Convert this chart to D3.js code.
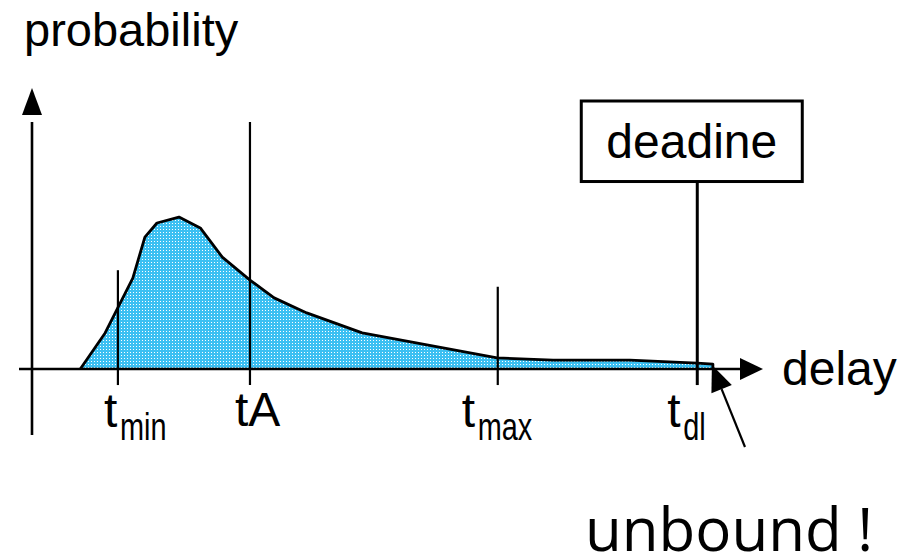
<!DOCTYPE html>
<html>
<head>
<meta charset="utf-8">
<script src="https://cdn.jsdelivr.net/npm/d3@7/dist/d3.min.js"></script>
<style>
  html, body { margin: 0; padding: 0; background: #fff; }
  svg { display: block; }
  text { font-family: "Liberation Sans", Arial, Helvetica, sans-serif; fill: #000; }
</style>
</head>
<body>
<svg id="chart" width="921" height="558"></svg>
<script>
// Delay distribution: sampled curve points (delay units, probability)
const curveDelay = [0.68, 1.03, 1.42, 1.59, 1.76, 2.07, 2.37, 2.68, 3.07, 3.41, 3.87, 4.65, 6.55, 7.34, 8.42, 9.37, 9.59];
const curveProb  = [0.000, 0.146, 0.368, 0.534, 0.591, 0.615, 0.571, 0.453, 0.360, 0.288, 0.227, 0.146, 0.045, 0.036, 0.036, 0.024, 0.020];

// Marked delays on the axis
const markerNames = ["min", "A", "max", "dl"];
const markerDelay = [1.21, 3.07, 6.56, 9.37];
const markerTop   = [0.40, 1.00, 0.333, 0.759];

const axisLabels = { y: "probability", x: "delay" };
const deadlineLabel = "deadine";
const noteLabel = "unbound !";

const svg = d3.select("#chart");

const x = d3.scaleLinear().domain([0, 10]).range([32, 742]);
const y = d3.scaleLinear().domain([0, 1]).range([369, 122]);

// Dotted light-blue fill
const defs = svg.append("defs");
const pat = defs.append("pattern")
  .attr("id", "dots").attr("patternUnits", "userSpaceOnUse")
  .attr("width", 3).attr("height", 3);
pat.append("rect").attr("width", 3).attr("height", 3).attr("fill", "#3cc0f2");
pat.append("rect").attr("x", 1).attr("y", 1).attr("width", 1).attr("height", 1).attr("fill", "#ffffff");

const pts = curveDelay.map((d, i) => [d, curveProb[i]]);
const areaPts = pts.concat([[curveDelay[curveDelay.length - 1], 0]]);

const area = d3.area().x(d => x(d[0])).y0(y(0)).y1(d => y(d[1]));
svg.append("path").datum(areaPts).attr("d", area).attr("fill", "url(#dots)");

const line = d3.line().x(d => x(d[0])).y(d => y(d[1]));
svg.append("path").datum(areaPts).attr("d", line)
  .attr("fill", "none").attr("stroke", "#000").attr("stroke-width", 2.8)
  .attr("stroke-linejoin", "round");

// Axes with arrow heads
const ax = svg.append("g").attr("stroke", "#000").attr("stroke-width", 2.6);
ax.append("line").attr("x1", x(0) - 13).attr("x2", x(10)).attr("y1", y(0)).attr("y2", y(0));
ax.append("line").attr("x1", x(0)).attr("x2", x(0)).attr("y1", y(1)).attr("y2", y(-0.267));
svg.append("path")
  .attr("d", `M${x(10) + 21},${y(0)} L${x(10) - 2},${y(0) - 11} L${x(10) - 2},${y(0) + 11} Z`)
  .attr("fill", "#000");
svg.append("path")
  .attr("d", `M${x(0)},${y(1) - 34} L${x(0) - 10},${y(1) - 7} L${x(0) + 10},${y(1) - 7} Z`)
  .attr("fill", "#000");

// Marker lines
const markerBottom = -0.065;
markerNames.forEach((n, i) => {
  svg.append("line")
    .attr("x1", x(markerDelay[i])).attr("x2", x(markerDelay[i]))
    .attr("y1", y(markerTop[i])).attr("y2", y(markerBottom))
    .attr("stroke", "#000").attr("stroke-width", n === "dl" ? 3 : 2.2);
});

// Marker labels: "t" with a condensed subscript
const labelShift = { min: -14, A: -15, max: -36, dl: -30 };
markerNames.forEach((n, i) => {
  const lx = x(markerDelay[i]) + labelShift[n];
  if (n === "A") {
    svg.append("text").attr("x", lx).attr("y", 426)
      .attr("font-size", 48).text("t" + n);
  } else {
    svg.append("text").attr("x", lx).attr("y", 427)
      .attr("font-size", 48).text("t");
    const sub = svg.append("text").attr("x", lx + 16).attr("y", 440)
      .attr("font-size", 38).text(n);
    const w = sub.node().getComputedTextLength();
    sub.attr("textLength", w * 0.76).attr("lengthAdjust", "spacingAndGlyphs");
  }
});

// Deadline box on top of the t_dl line
const boxW = 221, boxTop = 101, boxBottom = y(markerTop[3]);
const bx = x(markerDelay[3]) - 116;
svg.append("rect").attr("x", bx).attr("y", boxTop)
  .attr("width", boxW).attr("height", boxBottom - boxTop)
  .attr("fill", "#fff").attr("stroke", "#000").attr("stroke-width", 3);
svg.append("text").attr("x", bx + boxW / 2).attr("y", 158)
  .attr("text-anchor", "middle").attr("font-size", 48).text(deadlineLabel);

// Axis titles
svg.append("text").attr("x", 24).attr("y", 46).attr("font-size", 47).text(axisLabels.y);
svg.append("text").attr("x", 782).attr("y", 385).attr("font-size", 48).text(axisLabels.x);

// Note pointing at the cut-off tail
const tail = pts[pts.length - 1];
const tipX = x(tail[0]) - 1, tipY = y(tail[1]) + 1;
const fromX = 745, fromY = 447;
const ang = Math.atan2(tipY - fromY, tipX - fromX);
const headLen = 26, headHalf = 11;
const baseX = tipX - headLen * Math.cos(ang), baseY = tipY - headLen * Math.sin(ang);
svg.append("line").attr("x1", fromX).attr("y1", fromY).attr("x2", baseX).attr("y2", baseY)
  .attr("stroke", "#000").attr("stroke-width", 2.2);
svg.append("path")
  .attr("d", `M${tipX},${tipY} L${baseX + headHalf * Math.sin(ang)},${baseY - headHalf * Math.cos(ang)} L${baseX - headHalf * Math.sin(ang)},${baseY + headHalf * Math.cos(ang)} Z`)
  .attr("fill", "#000");

svg.append("text").attr("x", 585).attr("y", 551)
  .style("font-family", "'Open Sans', sans-serif").attr("font-size", 60).text(noteLabel);
</script>
</body>
</html>
